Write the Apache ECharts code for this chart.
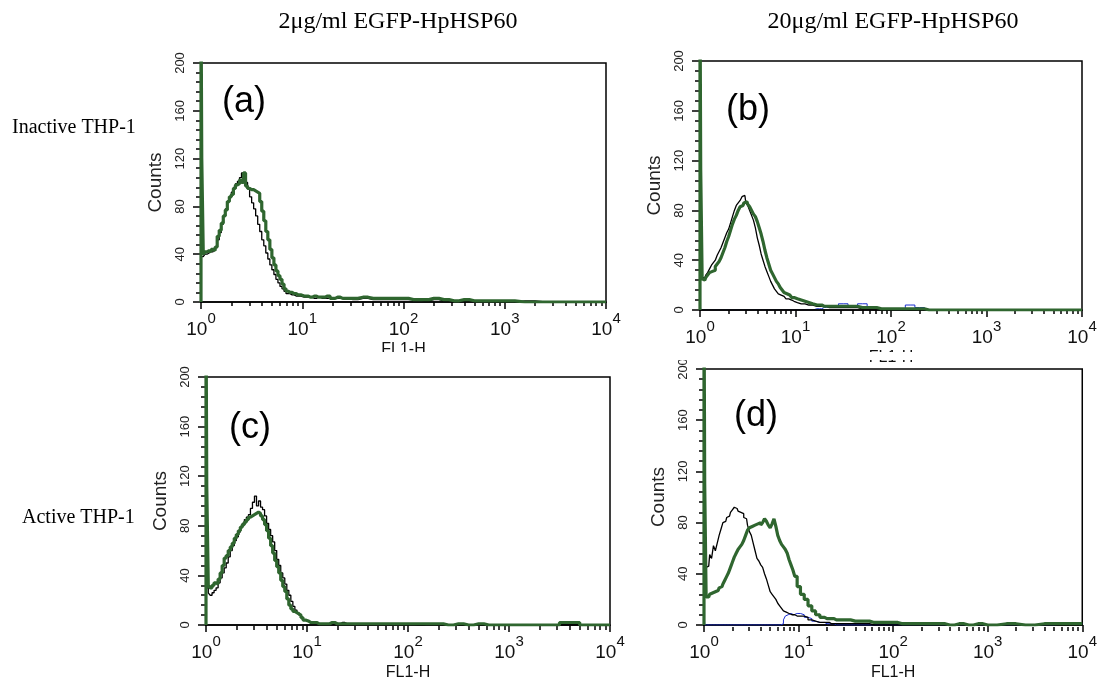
<!DOCTYPE html>
<html>
<head>
<meta charset="utf-8">
<script src="https://cdn.jsdelivr.net/npm/echarts@6/dist/echarts.min.js"></script>
<style>
html, body { margin: 0; padding: 0; background: #fff; }
#main { width: 1100px; height: 682px; }
</style>
</head>
<body>
<div id="main"></div>
<script>
// FL1-H channel positions, in decades (log10 of FL1-H)
var logFL1 = [0, 0, 0.015, 0.03,
	0.05, 0.07, 0.09, 0.11, 0.13, 0.15, 0.17, 0.19, 0.21, 0.23,
	0.25, 0.27, 0.29, 0.31, 0.33, 0.35, 0.37, 0.39, 0.41, 0.43,
	0.45, 0.47, 0.49, 0.51, 0.53, 0.55, 0.57, 0.59, 0.61, 0.63,
	0.65, 0.67, 0.69, 0.71, 0.73, 0.75, 0.77, 0.79, 0.81, 0.83,
	0.85, 0.87, 0.89, 0.91, 0.93, 0.95, 0.97,
	1.0, 1.04, 1.08, 1.12, 1.16, 1.2, 1.25, 1.3, 1.35, 1.4,
	1.5, 1.6, 1.7, 1.8, 1.9, 2.0, 2.1, 2.2, 2.3, 2.4,
	2.5, 2.6, 2.7, 2.8, 2.9, 3.0, 3.2, 3.4, 3.6, 3.8, 4.0];

// (a) inactive THP-1, 2ug/ml
var aGreen = [0, 260, 120, 40,
	42, 43, 42, 44, 43, 46, 55, 60, 66, 72,
	77, 84, 88, 90, 95, 98, 99, 102, 100, 108,
	97, 95, 94, 94, 93, 92, 91, 84, 76, 68,
	59, 52, 44, 37, 31, 26, 22, 19, 15, 11,
	9, 8, 8, 7, 7, 6, 6,
	5, 5, 4, 5, 4, 4, 5, 3, 4, 3,
	3, 4, 3, 3, 3, 3, 2, 2, 3, 2,
	1, 2, 1, 1, 1, 1, 0, 0, 0, 0, 0];
var aBlack = [0, 38, 38, 38,
	40, 41, 42, 42, 44, 46, 52, 58, 65, 72,
	78, 84, 88, 92, 96, 99, 101, 104, 108, 103,
	100, 95, 88, 83, 78, 72, 65, 59, 52, 47,
	41, 36, 31, 27, 23, 19, 16, 13, 11, 9,
	7, 7, 6, 6, 5, 5, 5,
	4, 4, 4, 3, 4, 3, 3, 3, 3, 3,
	2, 3, 2, 2, 2, 2, 2, 1, 2, 1,
	1, 1, 1, 1, 0, 0, 1, 0, 0, 0, 0];

// (b) inactive THP-1, 20ug/ml
var bGreen = [0, 260, 112, 25,
	24, 26, 28, 30, 31, 32, 35, 37, 39, 42,
	46, 50, 55, 59, 64, 69, 73, 76, 80, 83,
	84, 86, 87, 85, 83, 80, 77, 75, 71, 66,
	61, 55, 48, 42, 37, 32, 29, 26, 23, 21,
	18, 16, 14, 13, 12, 11, 10,
	9, 8, 7, 6, 5, 4, 4, 3, 3, 3,
	3, 3, 2, 2, 1, 1, 1, 1, 1, 0,
	0, 0, 0, 0, 0, 0, 0, 0, 0, 0, 0];
var bBlack = [0, 30, 28, 26,
	26, 28, 30, 33, 36, 38, 40, 44, 47, 50,
	54, 58, 62, 65, 70, 75, 80, 84, 86, 88,
	91, 92, 86, 84, 80, 76, 72, 66, 58, 52,
	45, 40, 35, 31, 27, 23, 20, 17, 15, 13,
	12, 11, 10, 9, 9, 8, 7,
	6, 5, 5, 4, 4, 3, 3, 3, 2, 2,
	2, 2, 1, 1, 1, 1, 1, 0, 1, 0,
	0, 0, 0, 0, 0, 0, 0, 0, 0, 0, 0];
var bBlue = [0, 10, 0, 0,
	0, 0, 0, 0, 0, 0, 0, 0, 0, 0,
	0, 0, 0, 0, 0, 0, 0, 0, 0, 0,
	0, 0, 0, 0, 0, 0, 0, 0, 0, 0,
	0, 0, 0, 0, 0, 0, 0, 0, 0, 0,
	0, 0, 0, 0, 0, 0, 0,
	0, 0, 0, 0, 0, 1, 1, 2, 2, 3,
	5, 2, 5, 1, 0, 0, 0, 4, 2, 0,
	0, 0, 0, 0, 0, 0, 0, 0, 0, 0, 0];

// (c) active THP-1, 2ug/ml
var cGreen = [0, 260, 112, 32,
	30, 32, 34, 33, 37, 42, 48, 54, 56, 60,
	63, 66, 70, 73, 76, 79, 81, 83, 85, 87,
	88, 89, 90, 91, 90, 88, 85, 81, 76, 70,
	64, 58, 52, 47, 42, 36, 31, 27, 21, 16,
	13, 11, 10, 9, 8, 6, 4,
	3, 2, 2, 1, 1, 1, 2, 1, 1, 1,
	1, 1, 1, 1, 1, 1, 1, 1, 1, 0,
	1, 0, 1, 0, 0, 0, 0, 0, 2, 0, 0];
var cBlack = [0, 30, 30, 26,
	24, 26, 28, 30, 34, 38, 42, 46, 50, 55,
	60, 64, 68, 71, 75, 79, 82, 85, 87, 89,
	94, 99, 104, 96, 100, 95, 93, 88, 82, 77,
	72, 67, 60, 53, 48, 42, 38, 33, 28, 24,
	19, 15, 12, 10, 8, 6, 4,
	3, 2, 2, 1, 1, 1, 1, 1, 2, 1,
	1, 1, 1, 1, 1, 1, 0, 1, 0, 0,
	0, 0, 0, 0, 0, 0, 0, 0, 0, 0, 0];

// (d) active THP-1, 20ug/ml
var dGreen = [0, 260, 110, 22,
	22, 24, 25, 26, 26, 27, 29, 30, 32, 35,
	38, 41, 45, 49, 53, 56, 59, 61, 63, 66,
	70, 74, 76, 77, 78, 79, 79, 80, 78, 80,
	83, 81, 78, 76, 79, 83, 77, 70, 66, 63,
	61, 59, 56, 51, 47, 43, 38,
	30, 24, 20, 15, 11, 8, 6, 5, 5, 4,
	4, 3, 3, 2, 2, 2, 1, 1, 1, 1,
	1, 0, 1, 0, 1, 0, 1, 0, 1, 1, 1];
var dBlack = [0, 45, 45, 44,
	46, 55, 52, 62, 58, 64, 70, 75, 80, 81,
	84, 85, 88, 90, 92, 91, 89, 88, 87, 84,
	83, 78, 73, 70, 64, 58, 52, 50, 47, 45,
	40, 36, 31, 26, 24, 22, 20, 17, 15, 13,
	11, 10, 9, 9, 8, 8, 7,
	7, 7, 6, 4, 3, 2, 2, 2, 1, 1,
	1, 1, 1, 0, 0, 0, 0, 0, 0, 0,
	0, 0, 0, 0, 0, 0, 0, 0, 0, 0, 0];
var dBlue = [0, 14, 0, 0,
	0, 0, 0, 0, 0, 0, 0, 0, 0, 0,
	0, 0, 0, 0, 0, 0, 0, 0, 0, 0,
	0, 0, 0, 0, 0, 0, 0, 0, 0, 0,
	0, 0, 0, 0, 0, 0, 0, 0, 0, 1,
	4, 7, 8, 9, 9, 8, 9,
	9, 8, 6, 5, 3, 2, 2, 1, 1, 0,
	0, 0, 0, 0, 0, 0, 0, 0, 0, 0,
	0, 0, 0, 0, 0, 0, 0, 0, 0, 1, 1];

var colTitles = ['2\u03bcg/ml EGFP-HpHSP60', '20\u03bcg/ml EGFP-HpHSP60'];
var rowTitles = ['Inactive THP-1', 'Active THP-1'];
var panelNames = ['(a)', '(b)', '(c)', '(d)'];

// minor ticks at 2..9 of each decade
var minorTicks = [];
for (var n = 0; n < 4; n++) {
	for (var k = 2; k < 10; k++) minorTicks.push(n + Math.log10(k));
}

var GREEN = '#2f662f';
var BLUE = '#1a2fd0';
// last item: z of the trace. blue of (b) sits under the axis line, in (d) it shows on it
var panels = [
	{ box: [201, 63, 405, 239], lab: [244, 102], lines: [[aBlack, '#000', 1.3, 3], [aGreen, GREEN, 3.2, 4]] },
	{ box: [700, 61, 382, 249], lab: [748, 110], lines: [[bBlue, BLUE, 1, -1], [bBlack, '#000', 1.3, 3], [bGreen, GREEN, 3.2, 4]] },
	{ box: [206, 377, 404, 249], lab: [250, 428], lines: [[cBlack, '#000', 1.3, 3], [cGreen, GREEN, 3.2, 4]] },
	{ box: [704, 369, 380, 258], lab: [756, 416], lines: [[dBlue, BLUE, 1, 2], [dBlack, '#000', 1.3, 3], [dGreen, GREEN, 3.2, 4]] }
];

function pairs(ys) {
	return logFL1.map(function(u, j) { return [u, ys[j]]; });
}

var chart = echarts.init(document.getElementById('main'));
var grids = [], xAxes = [], yAxes = [], series = [], graphics = [];

panels.forEach(function(p, i) {
	grids.push({
		left: p.box[0], top: p.box[1], width: p.box[2], height: p.box[3],
		show: true, borderColor: '#000', borderWidth: 1.5, backgroundColor: 'transparent'
	});
	// major decades with labels
	xAxes.push({
		gridIndex: i, type: 'value', position: 'bottom', min: 0, max: 4, interval: 1,
		name: 'FL1-H', nameLocation: 'middle', nameGap: 40,
		nameTextStyle: { fontFamily: 'Liberation Sans', fontSize: 16, color: '#111' },
		axisLine: { lineStyle: { color: '#000', width: 1.5 } },
		axisTick: { length: 7, lineStyle: { color: '#000', width: 1.5 } },
		axisLabel: {
			margin: 9,
			formatter: function(v) { return '{b|10}{s|' + v + '}'; },
			rich: {
				b: { fontFamily: 'Liberation Sans', fontSize: 19, lineHeight: 28, verticalAlign: 'bottom', color: '#111' },
				s: { fontFamily: 'Liberation Sans', fontSize: 15, lineHeight: 15, verticalAlign: 'top', color: '#111' }
			}
		},
		splitLine: { show: false }
	});
	// minor log ticks: a top axis pushed down onto the bottom edge
	xAxes.push({
		gridIndex: i, type: 'value', position: 'top', offset: -p.box[3], min: 0, max: 4,
		axisLine: { show: false, onZero: false },
		axisTick: { show: true, inside: true, length: 4, customValues: minorTicks, lineStyle: { color: '#000', width: 1.5 } },
		axisLabel: { show: false },
		splitLine: { show: false }
	});
	yAxes.push({
		gridIndex: i, type: 'value', min: 0, max: 200, interval: 40,
		name: 'Counts', nameLocation: 'middle', nameGap: 36,
		nameTextStyle: { fontFamily: 'Liberation Sans', fontSize: 19, color: '#222' },
		axisLine: { lineStyle: { color: '#000', width: 1.5 } },
		axisTick: { length: 8, lineStyle: { color: '#000', width: 1.5 } },
		minorTick: { show: true, splitNumber: 5, length: 5, lineStyle: { color: '#000', width: 1.5 } },
		axisLabel: { rotate: 90, margin: 14, fontFamily: 'Liberation Sans', fontSize: 13, color: '#222' },
		splitLine: { show: false }
	});
	p.lines.forEach(function(l) {
		series.push({
			type: 'line', xAxisIndex: 2 * i, yAxisIndex: i,
			step: 'middle', symbol: 'none', clip: true, animation: false,
			z: l[3],
			lineStyle: { color: l[1], width: l[2] },
			data: pairs(l[0])
		});
	});
	graphics.push({
		type: 'text', x: p.lab[0], y: p.lab[1], z: 10,
		style: { text: panelNames[i], font: '36px "Liberation Sans"', fill: '#000', textAlign: 'center', textVerticalAlign: 'middle' }
	});
});

graphics.push(
	{ type: 'text', x: 398, y: 22, style: { text: colTitles[0], font: '24px "Liberation Serif"', fill: '#000', textAlign: 'center', textVerticalAlign: 'middle' } },
	{ type: 'text', x: 893, y: 22, style: { text: colTitles[1], font: '24px "Liberation Serif"', fill: '#000', textAlign: 'center', textVerticalAlign: 'middle' } },
	{ type: 'text', x: 12, y: 128, style: { text: rowTitles[0], font: '20px "Liberation Serif"', fill: '#000', textAlign: 'left', textVerticalAlign: 'middle' } },
	{ type: 'text', x: 22, y: 518, style: { text: rowTitles[1], font: '20px "Liberation Serif"', fill: '#000', textAlign: 'left', textVerticalAlign: 'middle' } },
	// the top row figure is cropped just under its axis title
	{ type: 'rect', z: 20, shape: { x: 140, y: 352, width: 960, height: 8 }, style: { fill: '#fff' } }
);

chart.setOption({
	animation: false,
	backgroundColor: '#fff',
	grid: grids,
	xAxis: xAxes,
	yAxis: yAxes,
	series: series,
	graphic: graphics
});
</script>
</body>
</html>
